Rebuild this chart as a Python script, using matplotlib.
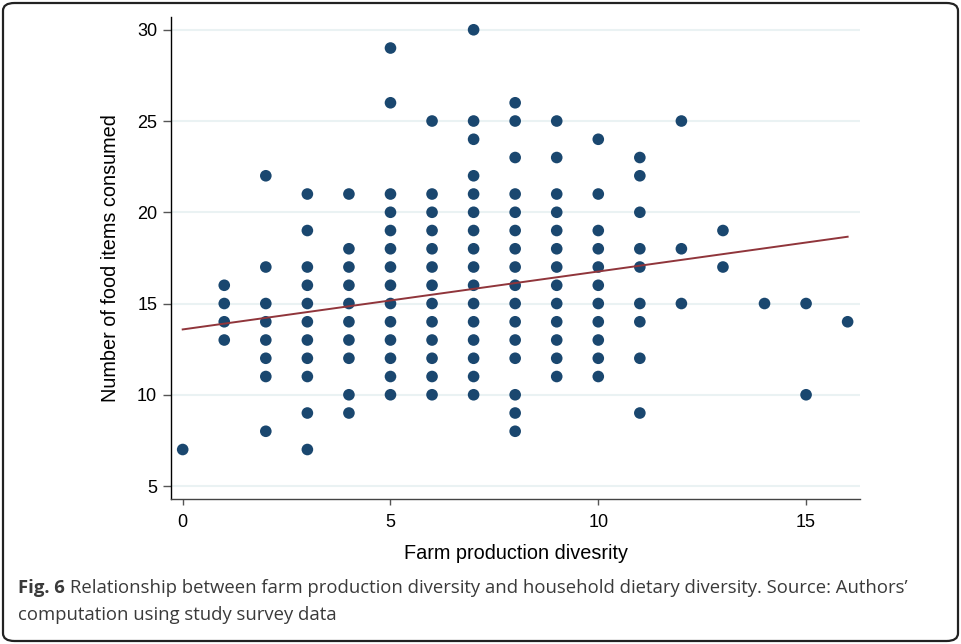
import numpy as np
import matplotlib
matplotlib.use("Agg")
import matplotlib.pyplot as plt
from matplotlib.patches import FancyBboxPatch

# farm production diversity -> food items consumed (unique points)
farm_div = [0, 1, 2, 3, 4, 5, 6, 7, 8, 9, 10, 11, 12, 13, 14, 15, 16]
food_items = [
    [7],
    [16, 15, 14, 13],
    [22, 17, 15, 14, 13, 12, 11, 8],
    [21, 19, 17, 16, 15, 14, 13, 12, 11, 9, 7],
    [21, 18, 17, 16, 15, 14, 13, 12, 10, 9],
    [29, 26, 21, 20, 19, 18, 17, 16, 15, 14, 13, 12, 11, 10],
    [25, 21, 20, 19, 18, 17, 16, 15, 14, 13, 12, 11, 10],
    [30, 25, 24, 22, 21, 20, 19, 18, 17, 16, 15, 14, 13, 12, 11, 10],
    [26, 25, 23, 21, 20, 19, 18, 17, 16, 15, 14, 13, 12, 10, 9, 8],
    [25, 23, 21, 20, 19, 18, 17, 16, 15, 14, 13, 12, 11],
    [24, 21, 19, 18, 17, 16, 15, 14, 13, 12, 11],
    [23, 22, 20, 18, 17, 15, 14, 12, 9],
    [25, 18, 15],
    [19, 17],
    [15],
    [15, 10],
    [14],
]
# fitted line as drawn
fit_intercept = 13.58
fit_slope = 0.3175

xticks = [0, 5, 10, 15]
yticks = [5, 10, 15, 20, 25, 30]

xs = np.concatenate([[x] * len(v) for x, v in zip(farm_div, food_items)])
ys = np.concatenate(food_items)

fig = plt.figure(figsize=(9.61, 6.44), dpi=100)
ax = fig.add_axes([0.178, 0.2252, 0.717, 0.7484])

navy = "#1a476f"
maroon = "#90353b"

ax.scatter(xs, ys, s=70, color=navy, edgecolors="none", zorder=3)
line_x = np.array([min(farm_div), max(farm_div)])
ax.plot(line_x, fit_intercept + fit_slope * line_x, color=maroon, lw=1.4, zorder=4)

ax.set_xlim(-0.28, 16.3)
ax.set_ylim(4.29, 30.7)
ax.set_xticks(xticks)
ax.set_yticks(yticks)
ax.grid(axis="y", color="#eaf2f3", lw=1.5, zorder=0)
ax.set_axisbelow(True)
for side in ["top", "right"]:
    ax.spines[side].set_visible(False)
ax.spines["left"].set_color("black")
ax.spines["bottom"].set_color("#444444")
for side in ["left", "bottom"]:
    ax.spines[side].set_linewidth(1.0)

font = ["Liberation Sans", "DejaVu Sans"]
ax.tick_params(axis="both", direction="out", width=1, color="#555555",
               labelsize=13, labelcolor="black")
ax.tick_params(axis="x", length=4.5, pad=6)
ax.tick_params(axis="y", length=6, pad=4)
for lab in ax.get_xticklabels() + ax.get_yticklabels():
    lab.set_fontfamily(font)
ax.set_xlabel("Farm production divesrity", fontsize=14.3, family=font, labelpad=10)
ax.set_ylabel("Number of food items consumed", fontsize=14.3, family=font, labelpad=12)

# caption
cap_font = ["Open Sans", "DejaVu Sans"]
cap_col = "#3a3a3a"
fig.canvas.draw()
renderer = fig.canvas.get_renderer()
bold = fig.text(18 / 961, 1 - 593 / 644, "Fig. 6", fontsize=13.3, fontweight="bold",
                family=cap_font, color=cap_col, va="baseline")
bb = bold.get_window_extent(renderer)
fig.text(bb.x1 / 961 + 5 / 961, 1 - 593 / 644,
         "Relationship between farm production diversity and household dietary diversity. Source: Authors\u2019",
         fontsize=13.3, family=cap_font, color=cap_col, va="baseline")
fig.text(18 / 961, 1 - 620 / 644, "computation using study survey data",
         fontsize=13.3, family=cap_font, color=cap_col, va="baseline")

# outer frame
frame = FancyBboxPatch((3 / 961, 3 / 644), 955 / 961, 638 / 644,
                       boxstyle="round,pad=0,rounding_size=0.012",
                       transform=fig.transFigure, fill=False, ec="#222222", lw=1.6)
fig.patches.append(frame)

fig.savefig("out.png", dpi=100)
